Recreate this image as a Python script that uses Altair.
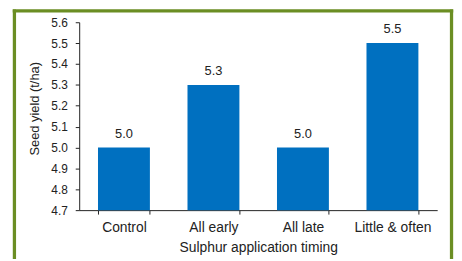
import altair as alt
import pandas as pd

categories = ["Control", "All early", "All late", "Little & often"]
seed_yield = [5.0, 5.3, 5.0, 5.5]
y_ticks = [4.7, 4.8, 4.9, 5.0, 5.1, 5.2, 5.3, 5.4, 5.5, 5.6]

df = pd.DataFrame({"timing": categories, "yield": seed_yield})

FONT = "Liberation Sans"
BAR = "#0070C0"
FRAME = "#6B8E23"

x_axis = alt.Axis(
    labelAngle=0,
    tickBand="extent",
    tickSize=4,
    labelPadding=7,
    labelFontSize=14,
    labelColor="#222222",
    labelFont=FONT,
    titleFont=FONT,
    titleFontSize=14,
    titleFontWeight="normal",
    titleColor="#222222",
    titleBaseline="top",
    titleY=31,
    domainColor="#222222",
    tickColor="#222222",
)
x_scale = alt.Scale(paddingInner=0.42, paddingOuter=0.21)

y_axis = alt.Axis(
    values=y_ticks,
    format=".1f",
    grid=False,
    tickSize=4,
    labelPadding=8,
    labelOverlap=False,
    labelFlush=False,
    labelFontSize=12,
    labelFont=FONT,
    labelColor="#222222",
    titleFont=FONT,
    titleFontSize=13,
    titleFontWeight="normal",
    titleColor="#222222",
    titleBaseline="middle",
    titleX=-45,
    titleY=87,
    domainColor="#222222",
    tickColor="#222222",
)
y_scale = alt.Scale(domain=[4.7, 5.6], nice=False, zero=False)

x_enc = alt.X("timing:N", sort=categories, title="Sulphur application timing",
              scale=x_scale, axis=x_axis)
y_enc = alt.Y("yield:Q", scale=y_scale, title="Seed yield (t/ha)", axis=y_axis)

bars = alt.Chart(df).mark_bar(color=BAR).encode(
    x=x_enc,
    y=y_enc,
    y2=alt.datum(4.7),
)

labels = alt.Chart(df).mark_text(
    font=FONT, fontSize=13, color="#222222", baseline="alphabetic", dy=-10
).encode(
    x=x_enc,
    y=y_enc,
    text=alt.Text("yield:Q", format=".1f"),
)

frame_data = alt.Data(values=[{"a": 1}])
left_border = alt.Chart(frame_data).mark_rule(color=FRAME, strokeWidth=3.3).encode(
    x=alt.value(-65.5), y=alt.value(-13), y2=alt.value(260)
)
right_border = alt.Chart(frame_data).mark_rule(color=FRAME, strokeWidth=3.3).encode(
    x=alt.value(376.5), y=alt.value(-13), y2=alt.value(260)
)
top_border = alt.Chart(frame_data).mark_rule(color=FRAME, strokeWidth=3.3).encode(
    x=alt.value(-67.2), x2=alt.value(378.2), y=alt.value(-11.4)
)

chart = (
    alt.layer(bars, labels, left_border, right_border, top_border)
    .properties(
        width=362,
        height=190,
        padding={"left": 72, "top": 13, "right": 17, "bottom": 48},
        autosize=alt.AutoSizeParams(type="none"),
        background="white",
    )
    .configure_view(stroke=None)
)

chart.save("out.html", embed_options={"renderer": "svg", "actions": False})
